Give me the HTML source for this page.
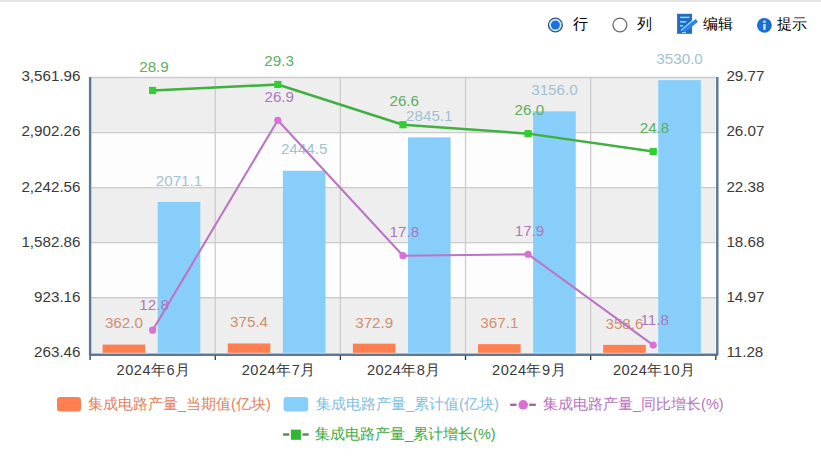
<!DOCTYPE html><html><head><meta charset="utf-8"><style>html,body{margin:0;padding:0;background:#fff;width:821px;height:462px;overflow:hidden}svg{display:block}text{font-family:"Liberation Sans",sans-serif}</style></head><body>
<svg width="821" height="462" viewBox="0 0 821 462">
<rect x="0" y="0" width="821" height="2" fill="#e5e5e5"/>
<rect x="90.10" y="77.50" width="625.70" height="55.06" fill="#eeeeee"/>
<rect x="90.10" y="132.56" width="625.70" height="55.06" fill="#fdfdfd"/>
<rect x="90.10" y="187.62" width="625.70" height="55.06" fill="#eeeeee"/>
<rect x="90.10" y="242.68" width="625.70" height="55.06" fill="#fdfdfd"/>
<rect x="90.10" y="297.74" width="625.70" height="55.06" fill="#eeeeee"/>
<line x1="90.10" y1="77.50" x2="715.80" y2="77.50" stroke="#cccccc" stroke-width="1.3"/>
<line x1="90.10" y1="132.56" x2="715.80" y2="132.56" stroke="#cccccc" stroke-width="1.3"/>
<line x1="90.10" y1="187.62" x2="715.80" y2="187.62" stroke="#cccccc" stroke-width="1.3"/>
<line x1="90.10" y1="242.68" x2="715.80" y2="242.68" stroke="#cccccc" stroke-width="1.3"/>
<line x1="90.10" y1="297.74" x2="715.80" y2="297.74" stroke="#cccccc" stroke-width="1.3"/>
<line x1="215.24" y1="77.50" x2="215.24" y2="352.80" stroke="#cccccc" stroke-width="1.3"/>
<line x1="340.38" y1="77.50" x2="340.38" y2="352.80" stroke="#cccccc" stroke-width="1.3"/>
<line x1="465.52" y1="77.50" x2="465.52" y2="352.80" stroke="#cccccc" stroke-width="1.3"/>
<line x1="590.66" y1="77.50" x2="590.66" y2="352.80" stroke="#cccccc" stroke-width="1.3"/>
<rect x="102.60" y="344.58" width="42.6" height="8.22" fill="#ff7f50"/>
<rect x="157.70" y="201.93" width="42.6" height="150.87" fill="#87cefa"/>
<rect x="227.74" y="343.46" width="42.6" height="9.34" fill="#ff7f50"/>
<rect x="282.84" y="170.77" width="42.6" height="182.03" fill="#87cefa"/>
<rect x="352.88" y="343.67" width="42.6" height="9.13" fill="#ff7f50"/>
<rect x="407.98" y="137.33" width="42.6" height="215.47" fill="#87cefa"/>
<rect x="478.02" y="344.15" width="42.6" height="8.65" fill="#ff7f50"/>
<rect x="533.12" y="111.38" width="42.6" height="241.42" fill="#87cefa"/>
<rect x="603.16" y="344.86" width="42.6" height="7.94" fill="#ff7f50"/>
<rect x="658.26" y="80.17" width="42.6" height="272.63" fill="#87cefa"/>
<text transform="translate(123.90,328.48) scale(1,1.0)" fill="#d2906f" font-size="15.2" text-anchor="middle">362.0</text>
<text transform="translate(179.00,185.53) scale(1,1.0)" fill="#a0c2d4" font-size="15.2" text-anchor="middle">2071.1</text>
<text transform="translate(249.04,327.36) scale(1,1.0)" fill="#d2906f" font-size="15.2" text-anchor="middle">375.4</text>
<text transform="translate(304.14,154.37) scale(1,1.0)" fill="#a0c2d4" font-size="15.2" text-anchor="middle">2444.5</text>
<text transform="translate(374.18,327.57) scale(1,1.0)" fill="#d2906f" font-size="15.2" text-anchor="middle">372.9</text>
<text transform="translate(429.28,120.93) scale(1,1.0)" fill="#a0c2d4" font-size="15.2" text-anchor="middle">2845.1</text>
<text transform="translate(499.32,328.05) scale(1,1.0)" fill="#d2906f" font-size="15.2" text-anchor="middle">367.1</text>
<text transform="translate(554.42,94.98) scale(1,1.0)" fill="#a0c2d4" font-size="15.2" text-anchor="middle">3156.0</text>
<text transform="translate(624.46,328.76) scale(1,1.0)" fill="#d2906f" font-size="15.2" text-anchor="middle">358.6</text>
<text transform="translate(679.56,63.77) scale(1,1.0)" fill="#a0c2d4" font-size="15.2" text-anchor="middle">3530.0</text>
<polyline points="152.67,330.17 277.81,120.23 402.95,255.72 528.09,254.23 653.23,345.06" fill="none" stroke="#bc74c4" stroke-width="2.1" stroke-linejoin="round"/>
<polyline points="152.67,90.45 277.81,84.50 402.95,124.70 528.09,133.63 653.23,151.50" fill="none" stroke="#40b040" stroke-width="2.5" stroke-linejoin="round"/>
<circle cx="152.67" cy="330.17" r="3.6" fill="#da70d6"/>
<rect x="149.07" y="86.85" width="7.2" height="7.2" fill="#32cd32"/>
<circle cx="277.81" cy="120.23" r="3.6" fill="#da70d6"/>
<rect x="274.21" y="80.90" width="7.2" height="7.2" fill="#32cd32"/>
<circle cx="402.95" cy="255.72" r="3.6" fill="#da70d6"/>
<rect x="399.35" y="121.10" width="7.2" height="7.2" fill="#32cd32"/>
<circle cx="528.09" cy="254.23" r="3.6" fill="#da70d6"/>
<rect x="524.49" y="130.03" width="7.2" height="7.2" fill="#32cd32"/>
<circle cx="653.23" cy="345.06" r="3.6" fill="#da70d6"/>
<rect x="649.63" y="147.90" width="7.2" height="7.2" fill="#32cd32"/>
<text transform="translate(154.07,310.17) scale(1,1.0)" fill="#ad78bb" font-size="15.2" text-anchor="middle">12.8</text>
<text transform="translate(279.21,101.83) scale(1,1.0)" fill="#ad78bb" font-size="15.2" text-anchor="middle">26.9</text>
<text transform="translate(404.35,237.32) scale(1,1.0)" fill="#ad78bb" font-size="15.2" text-anchor="middle">17.8</text>
<text transform="translate(529.49,235.83) scale(1,1.0)" fill="#ad78bb" font-size="15.2" text-anchor="middle">17.9</text>
<text transform="translate(654.63,325.06) scale(1,1.0)" fill="#ad78bb" font-size="15.2" text-anchor="middle">11.8</text>
<text transform="translate(153.97,72.15) scale(1,1.0)" fill="#5cb05e" font-size="15.2" text-anchor="middle">28.9</text>
<text transform="translate(279.11,66.20) scale(1,1.0)" fill="#5cb05e" font-size="15.2" text-anchor="middle">29.3</text>
<text transform="translate(404.25,106.40) scale(1,1.0)" fill="#5cb05e" font-size="15.2" text-anchor="middle">26.6</text>
<text transform="translate(529.39,115.33) scale(1,1.0)" fill="#5cb05e" font-size="15.2" text-anchor="middle">26.0</text>
<text transform="translate(654.53,133.20) scale(1,1.0)" fill="#5cb05e" font-size="15.2" text-anchor="middle">24.8</text>
<line x1="90.10" y1="76.90" x2="90.10" y2="355.20" stroke="#5b7896" stroke-width="2.4"/>
<line x1="717.30" y1="76.90" x2="717.30" y2="355.20" stroke="#5b7896" stroke-width="2.4"/>
<line x1="89.10" y1="354.70" x2="717.80" y2="354.70" stroke="#5b7896" stroke-width="2.4"/>
<line x1="90.10" y1="355.80" x2="90.10" y2="360.00" stroke="#333" stroke-width="1.3"/>
<line x1="215.24" y1="355.80" x2="215.24" y2="360.00" stroke="#333" stroke-width="1.3"/>
<line x1="340.38" y1="355.80" x2="340.38" y2="360.00" stroke="#333" stroke-width="1.3"/>
<line x1="465.52" y1="355.80" x2="465.52" y2="360.00" stroke="#333" stroke-width="1.3"/>
<line x1="590.66" y1="355.80" x2="590.66" y2="360.00" stroke="#333" stroke-width="1.3"/>
<line x1="715.80" y1="355.80" x2="715.80" y2="360.00" stroke="#333" stroke-width="1.3"/>
<text transform="translate(80.50,81.40) scale(1,1.0)" fill="#3a3a3a" font-size="15.2" text-anchor="end">3,561.96</text>
<text transform="translate(726.40,81.40) scale(1,1.0)" fill="#3a3a3a" font-size="15.2" text-anchor="start">29.77</text>
<text transform="translate(80.50,136.46) scale(1,1.0)" fill="#3a3a3a" font-size="15.2" text-anchor="end">2,902.26</text>
<text transform="translate(726.40,136.46) scale(1,1.0)" fill="#3a3a3a" font-size="15.2" text-anchor="start">26.07</text>
<text transform="translate(80.50,191.52) scale(1,1.0)" fill="#3a3a3a" font-size="15.2" text-anchor="end">2,242.56</text>
<text transform="translate(726.40,191.52) scale(1,1.0)" fill="#3a3a3a" font-size="15.2" text-anchor="start">22.38</text>
<text transform="translate(80.50,246.58) scale(1,1.0)" fill="#3a3a3a" font-size="15.2" text-anchor="end">1,582.86</text>
<text transform="translate(726.40,246.58) scale(1,1.0)" fill="#3a3a3a" font-size="15.2" text-anchor="start">18.68</text>
<text transform="translate(80.50,301.64) scale(1,1.0)" fill="#3a3a3a" font-size="15.2" text-anchor="end">923.16</text>
<text transform="translate(726.40,301.64) scale(1,1.0)" fill="#3a3a3a" font-size="15.2" text-anchor="start">14.97</text>
<text transform="translate(80.50,356.70) scale(1,1.0)" fill="#3a3a3a" font-size="15.2" text-anchor="end">263.46</text>
<text transform="translate(726.40,356.70) scale(1,1.0)" fill="#3a3a3a" font-size="15.2" text-anchor="start">11.28</text>
<text x="153.67" y="374.8" fill="#3a3a3a" font-size="14.6" letter-spacing="0.5" text-anchor="middle">2024年6月</text>
<text x="278.81" y="374.8" fill="#3a3a3a" font-size="14.6" letter-spacing="0.5" text-anchor="middle">2024年7月</text>
<text x="403.95" y="374.8" fill="#3a3a3a" font-size="14.6" letter-spacing="0.5" text-anchor="middle">2024年8月</text>
<text x="529.09" y="374.8" fill="#3a3a3a" font-size="14.6" letter-spacing="0.5" text-anchor="middle">2024年9月</text>
<text x="654.23" y="374.8" fill="#3a3a3a" font-size="14.6" letter-spacing="0.5" text-anchor="middle">2024年10月</text>
<rect x="57" y="397" width="24" height="14.4" rx="3" fill="#ff7f50"/>
<text x="88" y="408.9" fill="#e0825a" font-size="14.5">集成电路产量_当期值(亿块)</text>
<rect x="283.6" y="397" width="24.6" height="14.4" rx="3" fill="#87cefa"/>
<text x="316" y="408.9" fill="#80bede" font-size="14.5">集成电路产量_累计值(亿块)</text>
<line x1="510.2" y1="404.8" x2="516.6" y2="404.8" stroke="#9a6c9e" stroke-width="2.4"/>
<line x1="529.2" y1="404.8" x2="535.8" y2="404.8" stroke="#9a6c9e" stroke-width="2.4"/>
<circle cx="523.2" cy="404.8" r="4.8" fill="#da70d6"/>
<text x="543" y="408.9" fill="#b872c0" font-size="14.5">集成电路产量_同比增长(%)</text>
<line x1="283.1" y1="434.5" x2="289.3" y2="434.5" stroke="#4f8a50" stroke-width="2.4"/>
<line x1="302.5" y1="434.5" x2="308.7" y2="434.5" stroke="#4f8a50" stroke-width="2.4"/>
<rect x="290.9" y="429.6" width="10" height="10.2" fill="#33b533"/>
<text x="315" y="438.9" fill="#40aa42" font-size="14.5">集成电路产量_累计增长(%)</text>
<circle cx="555.4" cy="25" r="6.9" fill="#c8efff" stroke="#35597c" stroke-width="1.4"/>
<circle cx="555.4" cy="25" r="4.5" fill="#1f6fe0"/>
<text x="572.5" y="29.2" fill="#000" font-size="14.8">行</text>
<circle cx="619.9" cy="25" r="6.9" fill="#fff" stroke="#6a6a6a" stroke-width="1.3"/>
<text x="636.8" y="29.2" fill="#000" font-size="14.8">列</text>
<rect x="677.4" y="14.1" width="14.4" height="19.3" fill="#1e6cc4" stroke="#1a5fae" stroke-width="0.6"/>
<line x1="680" y1="17.4" x2="689.5" y2="17.4" stroke="#9fdcff" stroke-width="1.4"/>
<line x1="680" y1="21.8" x2="686.2" y2="21.8" stroke="#9fdcff" stroke-width="1.4"/>
<line x1="680" y1="25.8" x2="683" y2="25.8" stroke="#9fdcff" stroke-width="1.4"/>
<line x1="681" y1="30.6" x2="692.5" y2="20.8" stroke="#a8e4ff" stroke-width="1.3"/>
<line x1="683.4" y1="31.4" x2="696.8" y2="20.4" stroke="#2f84ec" stroke-width="3.6"/>
<line x1="682" y1="32.6" x2="686" y2="32.6" stroke="#a8e4ff" stroke-width="1"/>
<text x="702.5" y="29.2" fill="#000" font-size="14.8">编辑</text>
<circle cx="764.4" cy="25.3" r="7.4" fill="#1b6fd2"/>
<rect x="763.3" y="20.6" width="2.3" height="2.3" fill="#c4eeff"/>
<rect x="763.3" y="24" width="2.3" height="5.8" fill="#c4eeff"/>
<text x="776.5" y="29.2" fill="#000" font-size="14.8">提示</text>
</svg></body></html>
